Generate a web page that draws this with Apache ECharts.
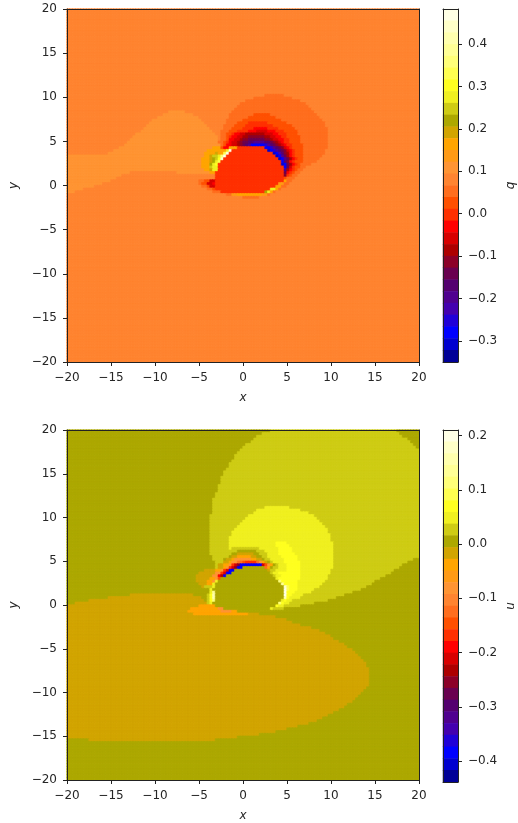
<!DOCTYPE html>
<html><head><meta charset="utf-8">
<style>html,body{margin:0;padding:0;background:#fff}#c{width:518px;height:823px}</style>
<script src="https://cdn.jsdelivr.net/npm/echarts@6/dist/echarts.min.js"></script>
</head><body><div id="c"></div>
<script>
// Colour levels of both colour bars, top band first (letters A..Z a..d in the rows below)
const levelKeys = "ABCDEFGHIJKLMNOPQRSTUVWXYZabcd";
const levelColors = ["#FFFFE5","#FFFFC8","#FFFFAE","#FFFF96","#FFFF78","#FFFF50","#FFFF20","#F0F020","#CFCC14","#ADA800","#D2A500","#FFA500","#FF9A15","#FF9433","#FF8430","#FF6E1E","#FF5000","#FF3000","#FF0000","#D80000","#AD0000","#8C0028","#6A0050","#540070","#500090","#4400B0","#2000D8","#0000FF","#0000D0","#000098"];
const axisTicks = [-20,-15,-10,-5,0,5,10,15,20];
const qRange = [-0.35, 0.4825];
const uRange = [-0.4387, 0.2105];
const qTicks = [-0.3,-0.2,-0.1,0,0.1,0.2,0.3,0.4];
const uTicks = [-0.4,-0.3,-0.2,-0.1,0,0.1,0.2];
// Rows from the top of the plot. Each run is level letter + end column; "Nx" repeats the row.
const qRows = [
"31x O128",
"O72 P79 O128","O68 P82 O128","O65 P85 O128","O63 P87 O128","O62 P88 O128","O61 P89 O128",
"O37 N43 O60 P90 O128",
"O35 N46 O59 P68 Q74 P91 O128",
"O33 N48 O59 P66 Q76 P92 O128",
"O31 N49 O58 P64 Q78 P93 O128",
"O30 N50 O58 P62 Q66 R73 Q80 P94 O128",
"O29 N51 O57 P61 Q65 R75 Q82 P94 O128",
"O28 N52 O57 P60 Q64 R68 S73 R77 Q83 P95 O128",
"O27 N53 O56 P59 Q62 R66 S69 T73 S76 R79 Q84 P95 O128",
"O25 N54 O56 P58 Q60 R61 S63 T65 U72 T75 S77 R80 Q84 P95 O128",
"O24 N55 O56 P58 Q59 R60 S62 T64 U66 V72 U74 T76 S78 R80 Q85 P95 O128",
"O23 N55 O56 P58 Q59 R59 S61 T63 U64 V66 W72 V74 U75 T77 S79 R81 Q85 P95 O128",
"O22 N55 P57 Q58 R59 S60 T62 U63 V64 W66 X68 Y72 X74 W75 V76 U77 T78 S79 R81 Q85 P95 O128",
"O21 N56 P57 Q58 S60 T62 U63 V64 W65 X66 Y67 b72 a73 Y74 X75 W76 V77 U78 T79 S80 R82 Q86 P95 O128",
"O19 N53 L56 Q57 S59 L62 R72 b74 a75 Y76 X77 W78 V79 T80 S81 R82 Q86 P95 O128",
"O17 N51 L58 H59 A60 R73 c74 b75 a76 Y77 X78 W79 V80 T81 S82 R83 Q86 P94 O128",
"O15 N50 L54 K55 L57 F58 A59 R75 c76 b77 Z78 X79 V80 U81 S82 R83 Q86 P94 O128",
"N50 L52 K53 I55 H56 E57 A58 R76 c77 b78 Y79 W80 U81 S82 R83 Q86 P93 O128",
"N49 L52 K53 J54 I55 G56 B57 R77 c78 b79 Y80 W81 U82 S83 R84 Q86 P92 O128",
"N49 L52 K53 J54 H55 F56 R78 b79 X80 V81 S82 R83 Q86 P91 O128",
"N49 L52 J53 H54 G55 R78 c79 b80 W81 U82 S83 R84 Q85 P89 O128",
"N49 L52 I53 H55 R79 b80 W81 T82 R83 Q85 P87 O128",
"N50 L52 K53 H55 R79 Y80 U81 S82 R83 Q84 P86 O128",
"N23 O40 N52 L54 R79 W80 S81 R82 Q83 P85 O128",
"N20 O54 R79 V80 R81 Q82 P84 O128",
"N18 O54 R79 Q80 P83 O128",
"N16 O48 P50 Q52 T54 R79 L80 P82 O128",
"N13 O48 P49 Q51 T53 S54 R77 M79 P81 O128",
"N10 O49 P51 Q52 T54 R76 L78 P80 O128",
"N6 O51 P53 Q54 R74 H76 L77 P78 O128",
"N3 O53 P56 R72 J73 H74 L75 P76 O128",
"O58 P60 M62 L71 M73 P74 O128",
"O64 P70 O128",
"59x O128"
];
const uRows = [
"J74 I120 J128","J71 I121 J128","J69 I122 J128","J68 I124 J128","J67 I125 J128","J65 I126 J128","J64 I127 J128",
"J63 I128","J62 I128","2x J61 I128","J60 I128","2x J59 I128","J58 I128","2x J57 I128","3x J56 I128","3x J55 I128","2x J54 I128","3x J53 I128",
"J53 I72 H81 I128","J53 I69 H85 I128","J53 I68 H88 I128","J52 I66 H90 I128","J52 I65 H91 I128","J52 I64 H92 I128","J52 I63 H93 I128","J52 I62 H94 I128","J52 I61 H95 I128","J52 I60 H95 I128","J52 I60 H96 I128","J52 I59 H96 I128","J52 I59 H96 I128",
"J52 I59 H76 G80 H97 I128",
"J52 I59 H76 G81 H97 I128",
"J52 I59 H60 I70 H77 G82 H97 I128",
"J52 I62 J69 I72 H77 G82 H97 I128",
"J52 I60 J62 K68 J70 I73 H77 G83 H97 I128",
"J53 I59 J60 K62 L67 K69 J71 I73 H78 G84 H97 I128",
"J53 I57 J58 K60 L61 N67 L69 K71 J72 I74 H79 G84 H97 I126 J128",
"J54 I57 K59 L60 N62 P64 Q65 R69 P70 N71 L72 K73 J74 I75 H79 G85 H97 I124 J128",
"J54 I55 K57 L59 N60 R61 T62 V63 b71 T72 Q73 N74 L75 J76 I77 H80 G85 H97 I122 J128",
"J54 I55 K57 L58 N59 R60 T61 V62 b64 J72 P73 L74 J75 I77 H80 G85 H97 I121 J128",
"J50 K54 L56 N57 R58 T59 b61 J73 K74 I76 H80 G85 H96 I119 J128",
"J48 K54 N56 R57 T58 b60 J74 I75 H77 G85 H96 I118 J128",
"J47 K53 N55 S56 U57 b58 J75 I76 H78 G85 H95 I116 J128",
"J47 K52 L54 N55 Q56 J76 H77 G85 H95 I114 J128",
"J47 K51 L53 N54 H55 J77 E78 G84 H94 I112 J128",
"J48 K51 L53 H54 J78 D79 G84 H93 I111 J128",
"J49 K50 I53 H54 J79 B80 F81 G84 H92 I109 J128",
"J52 H53 J79 A80 F81 G84 H90 I107 J128",
"J52 H53 D54 J79 A80 G83 H89 I104 J128",
"J23 K46 J51 I52 G53 C54 J79 A80 G82 H86 I101 J128",
"J15 K49 J51 I52 G53 C54 J79 C80 G81 H85 I98 J128",
"J8 K50 J51 I52 G53 E54 J78 H79 G80 H82 I95 J128",
"J3 K51 I52 H53 J77 E78 G79 H81 I90 J128",
"K48 L54 J76 G77 H79 I85 J128",
"K45 L55 N57 J74 H75 I79 J128",
"K44 L56 N60 L62 J128",
"K46 L66 K70 J128",
"K76 J128","K80 J128","K82 J128","K85 J128","K89 J128","K92 J128","K94 J128","K96 J128","K97 J128","K99 J128","K101 J128","K102 J128","K104 J128","K105 J128","K106 J128","K107 J128","K108 J128","2x K109 J128","7x K110 J128","K109 J128","K108 J128","K107 J128","K106 J128","K105 J128","K104 J128","K102 J128","K101 J128","K99 J128","K97 J128","K95 J128","K93 J128","K91 J128","K88 J128","K84 J128","K80 J128","K76 J128","K70 J128","K62 J128",
"J8 K54 J128",
"14x J128"
];

const NCOL = 128, NROW = 128, NLEV = levelKeys.length;
const FONT = "DejaVu Sans", TXT = "#262626", LINE = "#222";
const minus = s => s.replace("-", "\u2212");
const fmtInt = v => minus(String(v));
const fmtDec = v => minus(Number(v).toFixed(1));
const mid = (rng, lev) => rng[1] - (lev + 0.5) * (rng[1] - rng[0]) / NLEV;
const levelStyles = levelColors.map(color => ({ color, borderColor: color, borderWidth: 0.6 }));

function cells(rows, rng) {
  const out = []; let r = 0;
  rows.forEach(s => {
    let n = 1, body = s;
    const m = s.match(/^(\d+)x (.*)$/);
    if (m) { n = +m[1]; body = m[2]; }
    for (let k = 0; k < n; k++, r++) {
      let c = 0;
      body.split(" ").forEach(tok => {
        const lev = levelKeys.indexOf(tok[0]), end = +tok.slice(1);
        for (; c < end && c < NCOL; c++) out.push({ value: [c, NROW - 1 - r, mid(rng, lev)], itemStyle: levelStyles[lev] });
      });
    }
  });
  return out;
}
const idx = n => Array.from({ length: n }, (_, i) => i);
const panels = [
  { rows: qRows, rng: qRange, ticks: qTicks, name: "q", top: 9, h: 353 },
  { rows: uRows, rng: uRange, ticks: uTicks, name: "u", top: 430, h: 352 }
];
const grid = [], xAxis = [], yAxis = [], series = [];
const lineOnly = { show: true, axisLine: { onZero: false, lineStyle: { color: LINE, width: 1 } }, axisTick: { show: false }, axisLabel: { show: false }, splitLine: { show: false }, z: 10 };
const labelStyle = { color: TXT, fontFamily: FONT, fontSize: 12 };
const nameStyle = { color: TXT, fontFamily: FONT, fontSize: 12, fontStyle: "italic" };
function frame(g, pos, extra) { return Object.assign({}, lineOnly, { type: "value", gridIndex: g, position: pos, min: axisTicks[0], max: axisTicks[axisTicks.length - 1] }, extra || {}); }
const ticked = (margin) => ({
  interval: 5,
  axisTick: { show: true, length: 4, lineStyle: { color: LINE, width: 1 } },
  axisLabel: Object.assign({ show: true, margin, formatter: fmtInt }, labelStyle),
  nameLocation: "middle",
  nameTextStyle: nameStyle
});
panels.forEach(p => {
  const g = grid.length, gb = g + 1;
  grid.push({ left: 67, top: p.top, width: 352, height: p.h });
  grid.push({ left: 443, top: p.top, width: 17.5, height: p.h });
  const xCat = xAxis.length;
  xAxis.push({ type: "category", gridIndex: g, data: idx(NCOL), show: false });
  xAxis.push(frame(g, "bottom", Object.assign(ticked(10), { name: "x", nameGap: 30 })));
  xAxis.push(frame(g, "top"));
  const yCat = yAxis.length;
  yAxis.push({ type: "category", gridIndex: g, data: idx(NROW), show: false });
  yAxis.push(frame(g, "left", Object.assign(ticked(10), { name: "y", nameGap: 47 })));
  yAxis.push(frame(g, "right"));
  series.push({ type: "heatmap", xAxisIndex: xCat, yAxisIndex: yCat, data: cells(p.rows, p.rng), progressive: 0, animation: false, silent: true });
  const xb = xAxis.length;
  xAxis.push({ type: "category", gridIndex: gb, data: [0], show: false });
  xAxis.push(frame(gb, "bottom"));
  xAxis.push(frame(gb, "top"));
  const yb = yAxis.length;
  yAxis.push({ type: "category", gridIndex: gb, data: idx(NLEV), show: false });
  yAxis.push(Object.assign({}, lineOnly, { type: "value", gridIndex: gb, position: "left", min: p.rng[0], max: p.rng[1] }));
  yAxis.push(Object.assign({}, lineOnly, {
    type: "value", gridIndex: gb, position: "right", min: p.rng[0], max: p.rng[1],
    name: p.name, nameLocation: "middle", nameGap: 47, nameRotate: 90, nameTextStyle: nameStyle,
    axisTick: { show: true, length: 4, customValues: p.ticks, lineStyle: { color: LINE, width: 1 } },
    axisLabel: Object.assign({ show: true, margin: 10, customValues: p.ticks, formatter: fmtDec }, labelStyle)
  }));
  series.push({ type: "heatmap", xAxisIndex: xb, yAxisIndex: yb, progressive: 0, animation: false, silent: true,
    data: idx(NLEV).map(l => ({ value: [0, NLEV - 1 - l, mid(p.rng, l)], itemStyle: { color: levelColors[l] } })) });
});
const chart = echarts.init(document.getElementById("c"), null, { renderer: "canvas" });
chart.setOption({ animation: false, backgroundColor: "#fff", grid, xAxis, yAxis, series });
</script></body></html>
